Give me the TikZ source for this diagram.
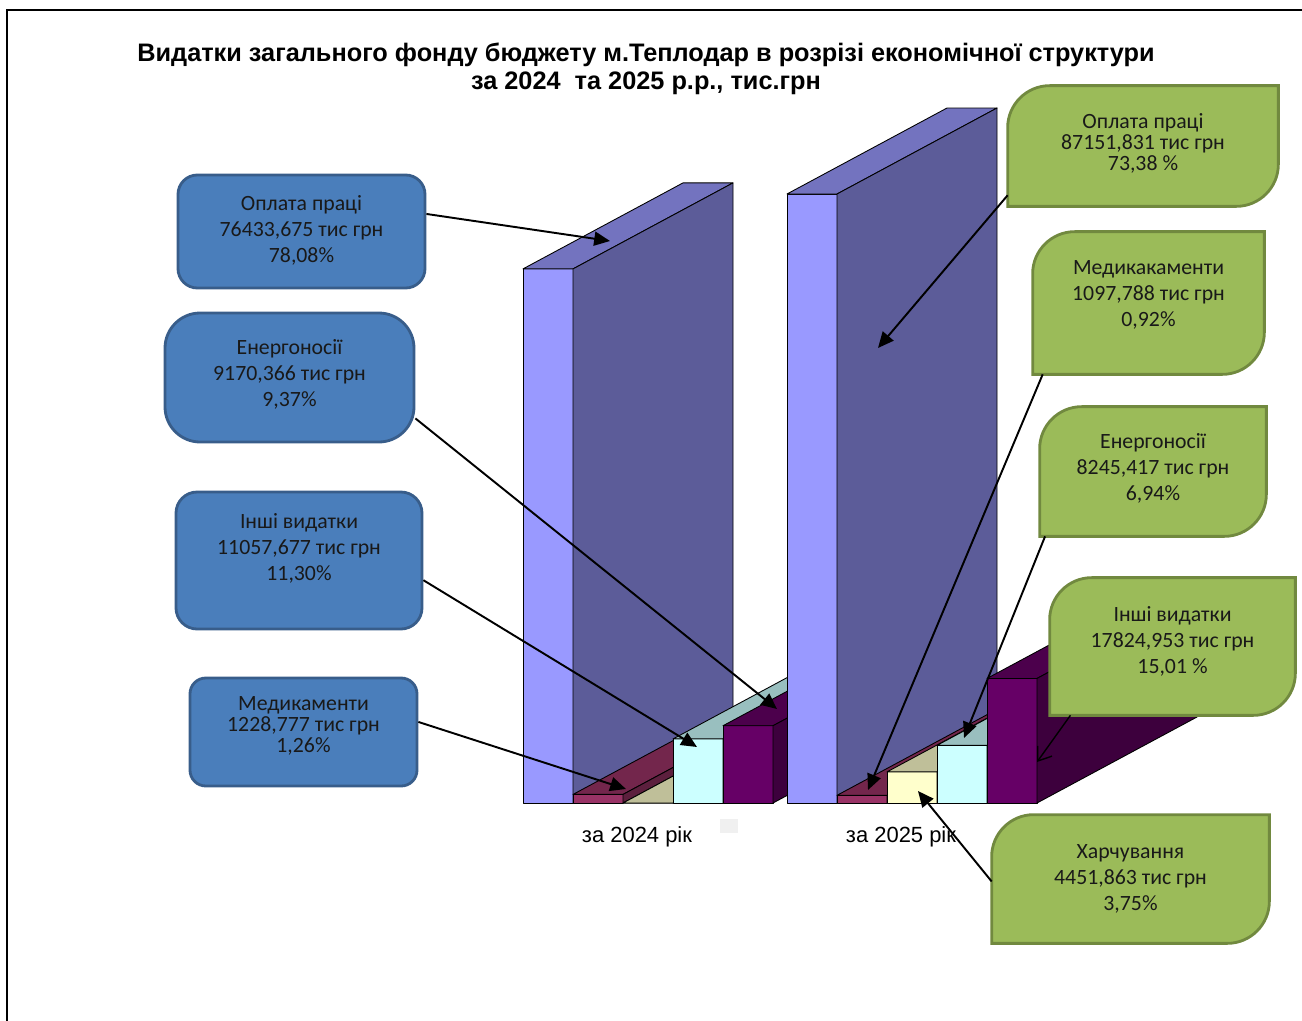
\documentclass[tikz,border=0pt]{standalone}
\usepackage{fontspec}
\setmainfont{Liberation Sans}
\newfontfamily\calibri{Carlito}
\usetikzlibrary{arrows.meta,calc,fit}

\definecolor{oplata}{HTML}{9999FF}
\definecolor{medyk}{HTML}{993366}
\definecolor{harch}{HTML}{FFFFCC}
\definecolor{energo}{HTML}{CCFFFF}
\definecolor{inshi}{HTML}{660066}
\definecolor{bluefill}{HTML}{4A7EBB}
\definecolor{blueline}{HTML}{385D8A}
\definecolor{greenfill}{HTML}{9BBB59}
\definecolor{greenline}{HTML}{71893F}

\tikzset{
  facet/.style={draw=black, line width=0.5pt, line join=round},
  bluebox/.style={fill=bluefill, draw=blueline, line width=1.6pt, inner sep=0pt},
  greenbox/.style={inner sep=0pt},
  boxtext/.style={align=center, text=black!90, inner sep=0pt, font=\calibri\fontsize{12.4}{14.6}\selectfont},
  tight/.style={font=\calibri\fontsize{12.4}{12}\selectfont},
  leaf/.style={fill=greenfill, draw=greenline, line width=1.6pt},
  callout/.style={line width=1.1pt, -{Triangle[length=9pt,width=8pt]}},
  opencallout/.style={line width=0.8pt, -{Straight Barb[length=7pt,width=10pt]}},
}

% leaf shaped box: top left and bottom right corners rounded
\newcommand{\leafshape}[2]{%
  \draw[leaf] ($(#1.north west)+(0,#2)$) .. controls ($(#1.north west)+(0,0.45*#2)$) and ($(#1.north west)+(0.45*#2,0)$) .. ($(#1.north west)+(#2,0)$)
    -- (#1.north east) -- ($(#1.south east)-(0,#2)$) .. controls ($(#1.south east)-(0,0.45*#2)$) and ($(#1.south east)-(0.45*#2,0)$) .. ($(#1.south east)-(#2,0)$)
    -- (#1.south west) -- cycle;}

\begin{document}
\begin{tikzpicture}[x=0.02cm, y=-0.02cm]
	\useasboundingbox (0,0) rectangle (1302,1021);
	\draw [line width=0.8pt] (1302,10) -- (7,10) -- (7,1021);

	% Title
	\node (title) at (646,69) [align=center, font=\bfseries\fontsize{14.4}{16}\selectfont] {Видатки загального фонду бюджету м.Теплодар в розрізі економічної структури\\за 2024~ та 2025 р.р., тис.грн};

	% Bars: front, top and side faces, left to right
	\foreach \x/\v/\c in {523/76.433675/oplata, 573/1.228777/medyk, 623/0/harch, 673/9.170366/energo, 723/11.057677/inshi,
	                      787/87.151831/oplata, 837/1.097788/medyk, 887/4.451863/harch, 937/8.245417/energo, 987/17.824953/inshi} {
		\pgfmathsetmacro{\ytop}{803-\v*6.9878}
		\filldraw [facet, fill=\c] (\x,803) rectangle (\x+50,\ytop);
		\filldraw [facet, fill=\c!75!black] (\x,\ytop) -- (\x+50,\ytop) -- (\x+210,\ytop-86) -- (\x+160,\ytop-86) -- cycle;
		\filldraw [facet, fill=\c!60!black] (\x+50,803) -- (\x+50,\ytop) -- (\x+210,\ytop-86) -- (\x+210,717) -- cycle;
	}
	\fill [black!6] (720,819) rectangle (738,833);

	% Axis labels
	\node (y2024) at (637,837) [font=\fontsize{12.5}{14}\selectfont] {за 2024 рік};
	\node (y2025) at (901,837) [font=\fontsize{12.5}{14}\selectfont] {за 2025 рік};

	% 2024
	\node (opl24) [bluebox, rounded corners=11pt, fit={(178,175) (425,288)}] {};
	\node (ene24) [bluebox, rounded corners=20pt, fit={(165,313) (414,442)}] {};
	\node (ins24) [bluebox, rounded corners=12pt, fit={(176,492) (422,629)}] {};
	\node (med24) [bluebox, rounded corners=9pt, fit={(190,678) (417,786)}] {};
	\node (opl24text) [boxtext] at ($(opl24.center)+(0,-1)$) {Оплата праці\\76433,675 тис грн\\78,08\%};
	\node (ene24text) [boxtext] at ($(ene24.center)+(0,-3)$) {Енергоносії\\9170,366 тис грн\\9,37\%};
	\node (ins24text) [boxtext] at ($(ins24.center)+(0,-12)$) {Інші видатки\\11057,677 тис грн\\11,30\%};
	\node (med24text) [boxtext, tight] at ($(med24.center)+(0,-6)$) {Медикаменти\\1228,777 тис грн\\1,26\%};

	% 2025
	\node (opl25) [greenbox, fit={(1008,86) (1278,206)}] {};
	\node (med25) [greenbox, fit={(1033,232) (1264,374)}] {};
	\node (ene25) [greenbox, fit={(1040,407) (1266,536)}] {};
	\node (ins25) [greenbox, fit={(1050,578) (1295,715)}] {};
	\node (har25) [greenbox, fit={(992,815) (1269,943)}] {};
	\foreach \n in {opl25, med25, ene25, ins25, har25} {
		\leafshape{\n}{42}
	}
	\node (opl25text) [boxtext, tight] at ($(opl25.center)+(0,-3)$) {Оплата праці\\87151,831 тис грн\\73,38 \%};
	\node (med25text) [boxtext] at ($(med25.center)+(0,-8)$) {Медикакаменти\\1097,788 тис грн\\0,92\%};
	\node (ene25text) [boxtext] at ($(ene25.center)+(0,-3)$) {Енергоносії\\8245,417 тис грн\\6,94\%};
	\node (ins25text) [boxtext] at ($(ins25.center)+(0,-5)$) {Інші видатки\\17824,953 тис грн\\15,01 \%};
	\node (har25text) [boxtext] at ($(har25.center)+(0,0)$) {Харчування\\4451,863 тис грн\\3,75\%};

	% Arrow tips
	\coordinate (opl24tip) at (610,241);
	\coordinate (ene24tip) at (777,709);
	\coordinate (ins24tip) at (697,747);
	\coordinate (med24tip) at (626,789);
	\coordinate (opl25tip) at (878,348);
	\coordinate (med25tip) at (868,790);
	\coordinate (ene25tip) at (964,738);
	\coordinate (ins25tip) at (1037,762);
	\coordinate (har25tip) at (918,791);

	\draw [callout] (opl24.8.5) -- (opl24tip);
	\draw [callout] (ene24.-18) -- (ene24tip);
	\draw [callout] (ins24.-9) -- (ins24tip);
	\draw [callout] (med24.5) -- (med24tip);
	\draw [callout] (opl25.200) -- (opl25tip);
	\draw [callout] (med25.214) -- (med25tip);
	\draw [callout] (ene25.211) -- (ene25tip);
	\draw [opencallout] (ins25.214.5) -- (ins25tip);
	\draw [callout] (har25.181) -- (har25tip);
\end{tikzpicture}
\end{document}
